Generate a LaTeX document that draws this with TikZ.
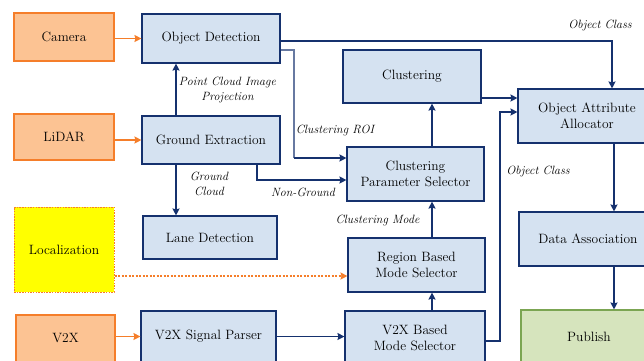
\documentclass[tikz,border=0pt]{standalone}
\usetikzlibrary{arrows.meta}
\definecolor{navy}{HTML}{15316E}
\definecolor{bfill}{HTML}{D5E2F1}
\definecolor{ofill}{HTML}{FCC393}
\definecolor{oline}{HTML}{F57E2A}
\definecolor{gfill}{HTML}{D6E4BD}
\definecolor{gline}{HTML}{7BA552}
\definecolor{yfill}{HTML}{FFFF00}
\begin{document}
\begin{tikzpicture}[x=1pt,y=-1pt,
  box/.style={draw=navy,fill=bfill,line width=1.1pt,inner sep=0pt,align=center,
    font=\fontsize{13.5}{16}\selectfont},
  obox/.style={draw=oline,fill=ofill,line width=1.1pt,inner sep=0pt,align=center,
    font=\fontsize{13.5}{16}\selectfont},
  gbox/.style={draw=gline,fill=gfill,line width=1.1pt,inner sep=0pt,align=center,
    font=\fontsize{13.5}{16}\selectfont},
  ybox/.style={draw=oline,fill=yfill,line width=1pt,dash pattern=on 1.5pt off 1.2pt,inner sep=0pt,align=center,
    font=\fontsize{13.5}{16}\selectfont},
  arr/.style={draw=navy,line width=1.4pt,-{Stealth[length=7pt,width=7pt,inset=1pt]}},
  oarr/.style={draw=oline,line width=1.4pt,-{Stealth[length=7pt,width=7pt,inset=1pt]}},
  lab/.style={font=\fontsize{12}{15}\selectfont\itshape,align=center,inner sep=0pt},
]
\useasboundingbox (0,0) rectangle (644,360);

% nodes
\node[obox,minimum width=100pt,minimum height=48pt] (cam) at (64,37) {Camera};
\node[box,minimum width=138pt,minimum height=49pt] (od) at (211,38.5) {Object Detection};
\node[obox,minimum width=100pt,minimum height=46pt] (lidar) at (64,137) {LiDAR};
\node[box,minimum width=138pt,minimum height=48pt] (ge) at (211,140) {Ground Extraction};
\node[box,minimum width=134pt,minimum height=43pt] (lane) at (210,237.5) {Lane Detection};
\node[ybox,minimum width=100pt,minimum height=85pt] (loc) at (64,249.5) {Localization};
\node[obox,minimum width=99pt,minimum height=47pt] (v2x) at (65.5,338.5) {V2X};
\node[box,minimum width=135pt,minimum height=51pt] (vsp) at (208.5,336.5) {V2X Signal Parser};
\node[box,minimum width=138pt,minimum height=53pt] (clu) at (412,76.5) {Clustering};
\node[box,minimum width=138pt,minimum height=54pt] (oaa) at (587,116) {Object Attribute\\Allocator};
\node[box,minimum width=137pt,minimum height=54pt] (cps) at (415.5,174) {Clustering\\Parameter Selector};
\node[box,minimum width=137pt,minimum height=54pt] (rbms) at (416.5,265) {Region Based\\Mode Selector};
\node[box,minimum width=140pt,minimum height=54pt] (vbms) at (415,338) {V2X Based\\Mode Selector};
\node[box,minimum width=138pt,minimum height=54pt] (da) at (588,239) {Data Association};
\node[gbox,minimum width=136pt,minimum height=54pt] (pub) at (589,337) {Publish};

% helper coordinates
\coordinate (xgv) at (176,0);
\coordinate (xng) at (257,0);
\coordinate (xroi) at (294,0);
\coordinate (xcl) at (432,0);
\coordinate (xv) at (500,0);
\coordinate (xoc) at (612,0);
\coordinate (xda) at (614,0);
\coordinate (y41) at (0,41);
\coordinate (y50) at (0,50);
\coordinate (y98) at (0,98);
\coordinate (y112) at (0,112);
\coordinate (y158) at (0,158);
\coordinate (y180) at (0,180);
\coordinate (y276) at (0,276);
\coordinate (y341) at (0,341);

% orange inputs
\draw[oarr] (cam.east |- od.west) -- (od.west);
\draw[oarr] (lidar.east |- ge.west) -- (ge.west);
\draw[oarr] (v2x.east |- vsp.west) -- (vsp.west);
\draw[oarr,line width=1.2pt,dash pattern=on 2pt off 1.5pt] (loc.east |- y276) -- (rbms.west |- y276);

% navy connectors
\draw[arr] (ge.north -| xgv) -- (od.south -| xgv);
\draw[arr] (ge.south -| xgv) -- (lane.north -| xgv);
\draw[arr] (od.east |- y41) -- (xoc |- y41) -- (oaa.north -| xoc);
\draw[draw=navy!65,line width=1.2pt] (od.east |- y50) -- (xroi |- y50) -- (xroi |- y158);
\draw[arr] (xroi |- y158) -- (cps.west |- y158);
\draw[arr] (ge.south -| xng) -- (xng |- y180) -- (cps.west |- y180);
\draw[arr] (cps.north -| xcl) -- (clu.south -| xcl);
\draw[arr] (clu.east |- y98) -- (oaa.west |- y98);
\draw[arr] (vbms.east |- y341) -- (xv |- y341) -- (xv |- y112) -- (oaa.west |- y112);
\draw[arr] (rbms.north -| xcl) -- (cps.south -| xcl);
\draw[arr] (vbms.north -| xcl) -- (rbms.south -| xcl);
\draw[arr] (vsp.east) -- (vbms.west |- vsp.east);
\draw[arr] (oaa.south -| xda) -- (da.north -| xda);
\draw[arr] (da.south -| xda) -- (pub.north -| xda);

% labels
\node[lab] (l1) at (600,25) {Object Class};
\node[lab] (l2) at (227.5,89.5) {Point Cloud Image\\Projection};
\node[lab] (l3) at (335,130) {Clustering ROI};
\node[lab] (l4) at (209,183.5) {Ground\\Cloud};
\node[lab] (l5) at (303,192) {Non-Ground};
\node[lab] (l6) at (377.5,220) {Clustering Mode};
\node[lab] (l7) at (538,171) {Object Class};
\end{tikzpicture}
\end{document}
